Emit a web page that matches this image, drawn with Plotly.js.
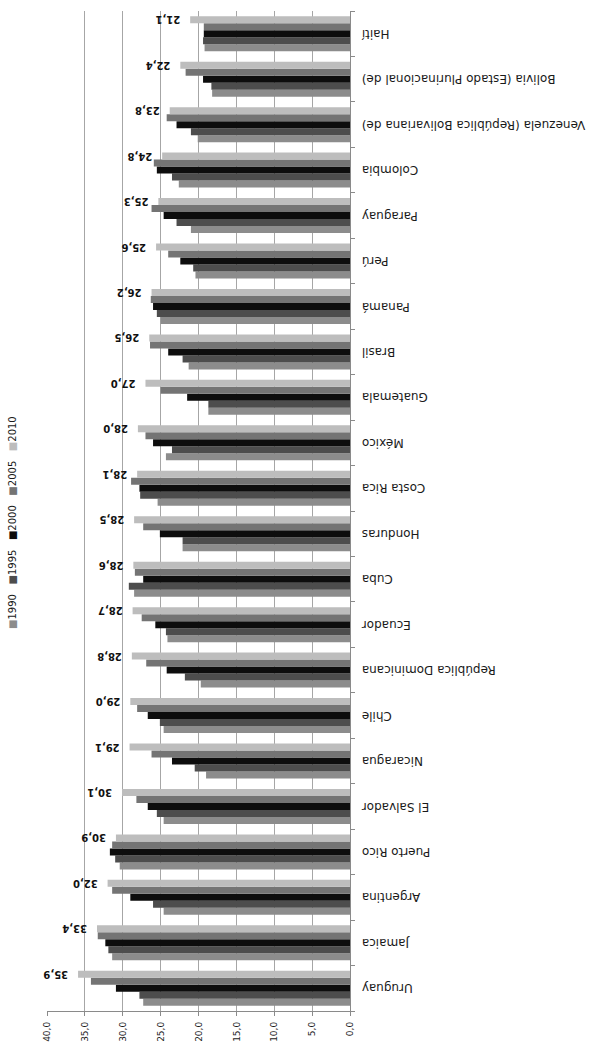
<!DOCTYPE html>
<html>
<head>
<meta charset="utf-8">
<script src="https://cdn.plot.ly/plotly-3.0.1.min.js"></script>
<style>
  html, body { margin: 0; padding: 0; background: #ffffff; overflow: hidden; }
  #wrap { position: absolute; left: 0; top: 0; width: 601px; height: 1046px; overflow: hidden; }
  #chart { position: absolute; left: 0; top: 0; width: 1046px; height: 601px;
           transform-origin: 0 0; transform: translateY(1046px) rotate(-90deg); }
</style>
</head>
<body>
<div id="wrap"><div id="chart"></div></div>
<script>
// Categories (left to right in the unrotated chart)
const categories = ['Uruguay','Jamaica','Argentina','Puerto Rico','El Salvador','Nicaragua','Chile',
  'República Dominicana','Ecuador','Cuba','Honduras','Costa Rica','México','Guatemala','Brasil',
  'Panamá','Perú','Paraguay','Colombia','Venezuela (República Bolivariana de)',
  'Bolivia (Estado Plurinacional de)','Haití'];

const years = ['1990','1995','2000','2005','2010'];

const values1990 = [27.3,31.4,24.6,30.4,24.6,19.0,24.6,19.7,24.1,28.5,22.1,25.4,24.3,18.7,21.3,25.0,20.4,21.0,22.6,20.1,18.2,19.2];
const values1995 = [27.8,31.9,26.0,31.0,25.5,20.5,25.1,21.8,24.3,29.2,22.1,27.7,23.5,18.7,22.1,25.5,20.7,22.9,23.5,21.0,18.3,19.4];
const values2000 = [30.9,32.3,29.0,31.7,26.7,23.5,26.7,24.2,25.7,27.3,25.1,27.8,26.0,21.5,24.0,26.0,22.4,24.6,25.5,22.9,19.4,19.3];
const values2005 = [34.2,33.3,31.4,31.4,28.2,26.2,28.1,26.9,27.5,28.4,27.3,28.9,27.0,25.0,26.4,26.3,24.0,26.2,25.9,24.2,21.7,19.3];
const values2010 = [35.9,33.4,32.0,30.9,30.1,29.1,29.0,28.8,28.7,28.6,28.5,28.1,28.0,27.0,26.5,26.2,25.6,25.3,24.8,23.8,22.4,21.1];

const seriesValues = [values1990, values1995, values2000, values2005, values2010];
const seriesColors = ['#8c8c8c', '#4d4d4d', '#0d0d0d', '#747474', '#bdbdbd'];

const FONT = 'DejaVu Sans, Verdana, sans-serif';

const traces = years.map((yr, i) => {
  const t = {
    type: 'bar',
    name: yr,
    x: categories,
    y: seriesValues[i],
    marker: { color: seriesColors[i], line: { width: 0 } },
    hoverinfo: 'x+y+name'
  };
  if (i === years.length - 1) {
    t.text = seriesValues[i].map(v => '\u00a0\u00a0' + v.toFixed(1).replace('.', ','));
    t.textposition = 'outside';
    t.textangle = -90;
    t.constraintext = 'none';
    t.cliponaxis = false;
    t.textfont = { family: FONT, size: 10, color: '#111111', weight: 'bold' };
  }
  return t;
});

const W = 1046, H = 601;
const margin = { l: 35, r: 11, t: 47, b: 251, pad: 0 };
const plotW = W - margin.l - margin.r;
const plotH = H - margin.t - margin.b;

// legend drawn as one line of text in the top band
const legendText = years.map((yr, i) =>
  '<span style="color:' + seriesColors[i] + '">\u25A0</span>' + yr).join('\u00a0\u00a0\u00a0');

const layout = {
  width: W, height: H,
  margin: margin,
  barmode: 'group',
  bargap: 0.23,
  bargroupgap: 0,
  separators: ',.',
  showlegend: false,
  paper_bgcolor: '#ffffff',
  plot_bgcolor: '#ffffff',
  font: { family: FONT, size: 12, color: '#1a1a1a' },
  xaxis: {
    type: 'category',
    tickangle: -90,
    showline: true, linecolor: '#8a8a8a', linewidth: 1,
    ticks: 'outside', tickson: 'boundaries', ticklen: 4, tickcolor: '#8a8a8a',
    ticklabelstandoff: 6,
    showgrid: false,
    tickfont: { family: FONT, size: 12, color: '#1a1a1a' },
    automargin: false
  },
  yaxis: {
    range: [0, 40], tick0: 0, dtick: 5, tickformat: '.1f',
    showline: true, linecolor: '#8a8a8a', linewidth: 1,
    ticks: 'outside', ticklen: 4, tickcolor: '#8a8a8a',
    ticklabelstandoff: 4,
    showgrid: true, gridcolor: '#a6a6a6', gridwidth: 1,
    zeroline: false,
    tickfont: { family: FONT, size: 9, color: '#1a1a1a' },
    automargin: false
  },
  annotations: [{
    xref: 'paper', yref: 'paper',
    x: (W / 2 - margin.l) / plotW,
    y: 1 + (margin.t - 12.5) / plotH,
    xanchor: 'center', yanchor: 'middle',
    showarrow: false,
    text: legendText,
    font: { family: FONT, size: 10, color: '#1a1a1a' }
  }]
};

Plotly.newPlot('chart', traces, layout, { staticPlot: true, displayModeBar: false });
</script>
</body>
</html>
